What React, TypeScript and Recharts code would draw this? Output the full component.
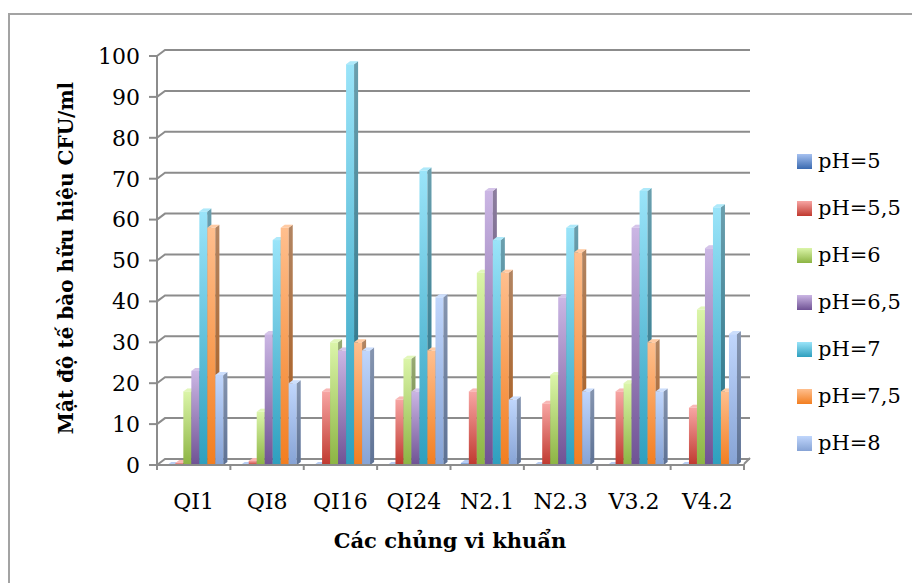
import React from 'react'
import { Bar, BarChart, CartesianGrid, XAxis, YAxis } from 'recharts'

const strains = ['QI1', 'QI8', 'QI16', 'QI24', 'N2.1', 'N2.3', 'V3.2', 'V4.2']
const seriesNames = ['pH=5', 'pH=5,5', 'pH=6', 'pH=6,5', 'pH=7', 'pH=7,5', 'pH=8']
const ph5 = [0, 0, 0, 0, 0.5, 0, 0, 0]
const ph55 = [0.5, 1, 18, 16, 18, 15, 18, 14]
const ph6 = [18, 13, 30, 26, 47, 22, 20, 38]
const ph65 = [23, 32, 28, 18, 67, 41, 58, 53]
const ph7 = [62, 55, 98, 72, 55, 58, 67, 63]
const ph75 = [58, 58, 30, 28, 47, 52, 30, 18]
const ph8 = [22, 20, 28, 41, 16, 18, 18, 32]
const yTicks = [0, 10, 20, 30, 40, 50, 60, 70, 80, 90, 100]

const seriesValues = [ph5, ph55, ph6, ph65, ph7, ph75, ph8]
const keys = ['s0', 's1', 's2', 's3', 's4', 's5', 's6']

// light (top) and dark (bottom) shade of each column
const lightShade = ['#a6c1f0', '#f7a5a3', '#dbf5a9', '#cbb6e4', '#9ae4f9', '#ffbf8e', '#c0d6fc']
const darkShade = ['#3a6ab0', '#c0392f', '#8cb443', '#6f5294', '#2e9fbe', '#f27e20', '#86a3d5']

const data = strains.map((name, i) => {
  const row: any = { name }
  keys.forEach((k, s) => { row[k] = seriesValues[s][i] })
  return row
})

const FONT = '"DejaVu Serif", serif'
const GRID = '#8c8c8c'
const DX = 4
const DY = 3

const makeColumn = (s: number) => (p: any) => {
  const x = p.x + 3
  const y = p.y
  const w = p.width
  const h = Math.max(p.height, 0)
  const top = `${x},${y} ${x + DX},${y - DY} ${x + w + DX},${y - DY} ${x + w},${y}`
  const side = `${x + w},${y} ${x + w + DX},${y - DY} ${x + w + DX},${y + h - DY} ${x + w},${y + h}`
  return (
    <g>
      {h > 0 && <rect x={x} y={y} width={w} height={h} fill={`url(#col-${s})`} />}
      {h > 0 && <polygon points={side} fill={`url(#col-${s})`} />}
      {h > 0 && <polygon points={side} fill="#000" fillOpacity={0.3} />}
      <polygon points={top} fill={lightShade[s]} />
      <polygon points={top} fill="#fff" fillOpacity={0.2} />
    </g>
  )
}

// back-wall gridlines with the short slanted wall edge on the left
const wallLine = (p: any) => {
  const { x1, x2, y1 } = p
  return (
    <path
      key={`wall-${y1}`}
      d={`M${x1},${y1} L${x1 + 8},${y1 - 6} L${x2 + 6},${y1 - 6}`}
      stroke={GRID}
      strokeWidth={2}
      fill="none"
    />
  )
}

const StrainTick = (p: any) => {
  const { x, y, payload, index } = p
  const half = payload && payload.offset ? payload.offset : 36.7
  const axisY = y - 29
  return (
    <g>
      <line x1={x - half} y1={axisY} x2={x - half} y2={axisY + 6} stroke={GRID} strokeWidth={2} />
      {index === strains.length - 1 && (
        <>
          <line x1={x + half} y1={axisY} x2={x + half} y2={axisY + 6} stroke={GRID} strokeWidth={2} />
          <line x1={x + half} y1={axisY} x2={x + half + 6} y2={axisY - 6} stroke={GRID} strokeWidth={2} />
        </>
      )}
      <text x={x} y={y} dy="0.71em" textAnchor="middle" fontFamily={FONT} fontSize={22} fill="#000">
        {payload.value}
      </text>
    </g>
  )
}

const YTitle = () => (
  <text
    x={66}
    y={258}
    transform="rotate(-90 66 258)"
    textAnchor="middle"
    dominantBaseline="central"
    fontFamily={FONT}
    fontWeight="bold"
    fontSize={20}
    fill="#000"
  >
    Mật độ tế bào hữu hiệu CFU/ml
  </text>
)

const XTitle = () => (
  <text x={450} y={548} textAnchor="middle" fontFamily={FONT} fontWeight="bold" fontSize={21} fill="#000">
    Các chủng vi khuẩn
  </text>
)

export default function App() {
  return (
    <div style={{ position: 'absolute', left: 0, top: 0, width: 912, height: 583, background: '#fff' }}>
      <div
        style={{
          position: 'absolute',
          left: 8,
          top: 13,
          right: 0,
          bottom: 0,
          borderLeft: '2px solid #a3a3a3',
          borderTop: '2px solid #a3a3a3',
        }}
      />
      <div style={{ position: 'absolute', left: 0, top: 0 }}>
        <BarChart
          width={912}
          height={583}
          data={data}
          margin={{ top: 56, right: 168, bottom: 0, left: 0 }}
          barCategoryGap="10%"
          barGap={0}
        >
          <defs>
            {keys.map((k, s) => (
              <linearGradient key={k} id={`col-${s}`} x1="0" y1="0" x2="0" y2="1">
                <stop offset="0%" stopColor={lightShade[s]} />
                <stop offset="100%" stopColor={darkShade[s]} />
              </linearGradient>
            ))}
          </defs>
          <CartesianGrid vertical={false} horizontal={wallLine} />
          <XAxis
            dataKey="name"
            height={118}
            axisLine={{ stroke: GRID, strokeWidth: 2 }}
            tickLine={false}
            tickSize={6}
            tickMargin={22}
            tick={<StrainTick />}
            interval={0}
            label={<XTitle />}
          />
          <YAxis
            width={157}
            domain={[0, 100]}
            ticks={yTicks}
            interval={0}
            axisLine={{ stroke: GRID, strokeWidth: 2 }}
            tickLine={{ stroke: GRID, strokeWidth: 2 }}
            tickSize={8}
            tickMargin={9}
            tick={{ fontFamily: FONT, fontSize: 22, fill: '#000' }}
            label={<YTitle />}
          />
          {keys.map((k, s) => (
            <Bar key={k} dataKey={k} name={seriesNames[s]} shape={makeColumn(s)} isAnimationActive={false} />
          ))}
        </BarChart>
      </div>
      {seriesNames.map((n, s) => (
        <div
          key={n}
          style={{
            position: 'absolute',
            left: 797,
            top: 149 + 47 * s,
            height: 24,
            display: 'flex',
            alignItems: 'center',
            fontFamily: FONT,
            fontSize: 21,
            color: '#000',
            whiteSpace: 'nowrap',
          }}
        >
          <span
            style={{
              display: 'inline-block',
              width: 15,
              height: 15,
              marginRight: 6,
              background: `linear-gradient(${lightShade[s]}, ${darkShade[s]})`,
            }}
          />
          {n}
        </div>
      ))}
    </div>
  )
}
